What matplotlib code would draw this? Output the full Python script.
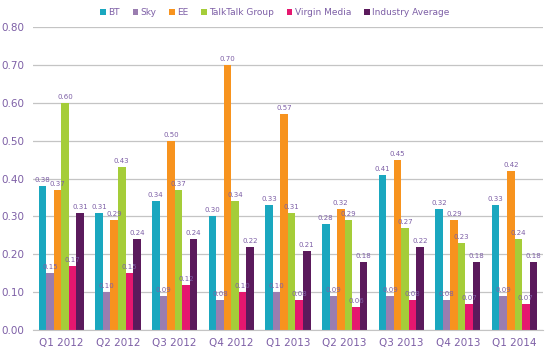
import matplotlib
matplotlib.use("Agg")
import matplotlib.pyplot as plt
import numpy as np

quarters = ["Q1 2012", "Q2 2012", "Q3 2012", "Q4 2012", "Q1 2013",
            "Q2 2013", "Q3 2013", "Q4 2013", "Q1 2014"]
series_names = ["BT", "Sky", "EE", "TalkTalk Group", "Virgin Media", "Industry Average"]
bt = [0.38, 0.31, 0.34, 0.30, 0.33, 0.28, 0.41, 0.32, 0.33]
sky = [0.15, 0.10, 0.09, 0.08, 0.10, 0.09, 0.09, 0.08, 0.09]
ee = [0.37, 0.29, 0.50, 0.70, 0.57, 0.32, 0.45, 0.29, 0.42]
talktalk = [0.60, 0.43, 0.37, 0.34, 0.31, 0.29, 0.27, 0.23, 0.24]
virgin = [0.17, 0.15, 0.12, 0.10, 0.08, 0.06, 0.08, 0.07, 0.07]
industry = [0.31, 0.24, 0.24, 0.22, 0.21, 0.18, 0.22, 0.18, 0.18]
yticks = [0.0, 0.1, 0.2, 0.3, 0.4, 0.5, 0.6, 0.7, 0.8]

colors = ["#1aa7bf", "#9a7db0", "#f7931e", "#a5cd39", "#e5176f", "#5b1a5c"]
text_color = "#7d5fa6"

fig = plt.figure(figsize=(5.5, 3.53), dpi=100)
ax = fig.add_axes([0.06, 0.065, 0.927, 0.858])

data = [bt, sky, ee, talktalk, virgin, industry]
x = np.arange(len(quarters))
w = 0.133
for i, (name, vals, c) in enumerate(zip(series_names, data, colors)):
    pos = x + (i - 2.5) * w
    ax.bar(pos, vals, width=w, color=c, label=name, zorder=2)
    for px, v in zip(pos, vals):
        ax.text(px, v + 0.008, f"{v:.2f}", ha="center", va="bottom",
                fontsize=5, color=text_color, zorder=3)

ax.set_ylim(0, 0.8)
ax.set_xlim(-0.5, len(quarters) - 0.5)
ax.set_yticks(yticks)
ax.set_yticklabels([f"{t:.2f}" for t in yticks], fontsize=7.5, color=text_color)
ax.set_xticks(x)
ax.set_xticklabels(quarters, fontsize=7.5, color=text_color)
ax.tick_params(axis="both", length=0, pad=6)
ax.yaxis.grid(True, color="#c4c4c4", linewidth=0.9, zorder=0)
ax.set_axisbelow(True)
for s in ["top", "right", "left"]:
    ax.spines[s].set_visible(False)
ax.spines["bottom"].set_color("#c4c4c4")

leg = fig.legend(loc="upper center", bbox_to_anchor=(0.5, 1.0), ncol=6,
                 frameon=False, fontsize=6.5, handlelength=0.6, handleheight=0.6,
                 handletextpad=0.3, columnspacing=1.4, labelcolor=text_color)

fig.savefig("out.png", dpi=100, facecolor="white")
